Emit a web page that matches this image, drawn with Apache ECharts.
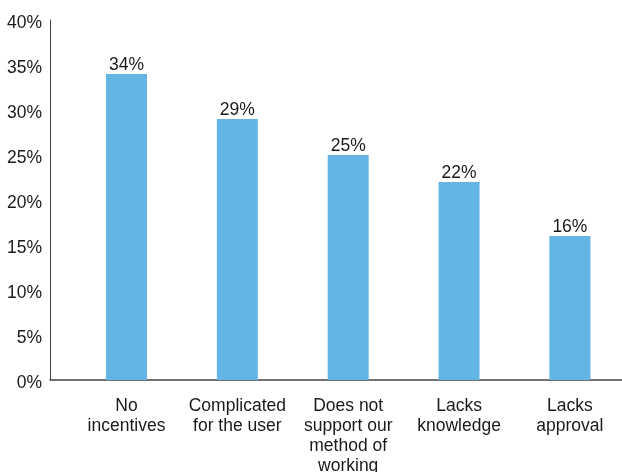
<!DOCTYPE html>
<html>
<head>
<meta charset="utf-8">
<script src="https://cdn.jsdelivr.net/npm/echarts@6/dist/echarts.min.js"></script>
<style>
  html, body { margin: 0; padding: 0; background: #fff; }
  #chart { width: 622px; height: 472px; }
</style>
</head>
<body>
<div id="chart"></div>
<script>
// Reasons given, shown as category labels under each bar
const categories = [
  'No\nincentives',
  'Complicated\nfor the user',
  'Does not\nsupport our\nmethod of\nworking',
  'Lacks\nknowledge',
  'Lacks\napproval'
];
// Share of respondents (%)
const shares = [34, 29, 25, 22, 16];
// Value-axis ticks
const yTicks = [0, 5, 10, 15, 20, 25, 30, 35, 40];

const FONT = '"Liberation Sans", Arial, Helvetica, sans-serif';

const chart = echarts.init(document.getElementById('chart'), null, { renderer: 'canvas' });

chart.setOption({
  animation: false,
  textStyle: { fontFamily: FONT },
  grid: { left: 50, right: 0, top: 20, bottom: 92, containLabel: false, outerBoundsMode: 'none' },
  xAxis: {
    type: 'value',
    min: -0.69,
    max: 4.47,
    minInterval: 1,
    maxInterval: 1,
    axisLine: { show: true, onZero: false, lineStyle: { color: '#444', width: 1.5 } },
    axisTick: { show: false },
    splitLine: { show: false },
    axisLabel: {
      show: true,
      showMinLabel: false,
      showMaxLabel: false,
      fontSize: 17.5,
      lineHeight: 20,
      color: '#1a1a1a',
      margin: 16,
      align: 'center',
      verticalAlign: 'top',
      formatter: function (v) {
        return Number.isInteger(v) && categories[v] !== undefined ? categories[v] : '';
      }
    }
  },
  yAxis: {
    type: 'value',
    min: yTicks[0],
    max: yTicks[yTicks.length - 1],
    interval: yTicks[1] - yTicks[0],
    axisLine: { show: true, onZero: false, lineStyle: { color: '#444', width: 1 } },
    axisTick: { show: false },
    splitLine: { show: false },
    axisLabel: {
      fontSize: 17.5,
      color: '#1a1a1a',
      margin: 8,
      formatter: function (v) { return '{t|' + v + '%}'; },
      rich: {
        t: { fontSize: 17.5, color: '#1a1a1a', padding: [6, 0, 0, 0] }
      }
    }
  },
  series: [{
    type: 'bar',
    data: shares.map(function (v, i) { return [i, v]; }),
    barWidth: 41,
    itemStyle: { color: '#63B5E5' },
    label: {
      show: true,
      position: 'top',
      distance: 0,
      fontSize: 17.5,
      color: '#1a1a1a',
      formatter: function (p) { return p.value[1] + '%'; }
    }
  }]
});
</script>
</body>
</html>
